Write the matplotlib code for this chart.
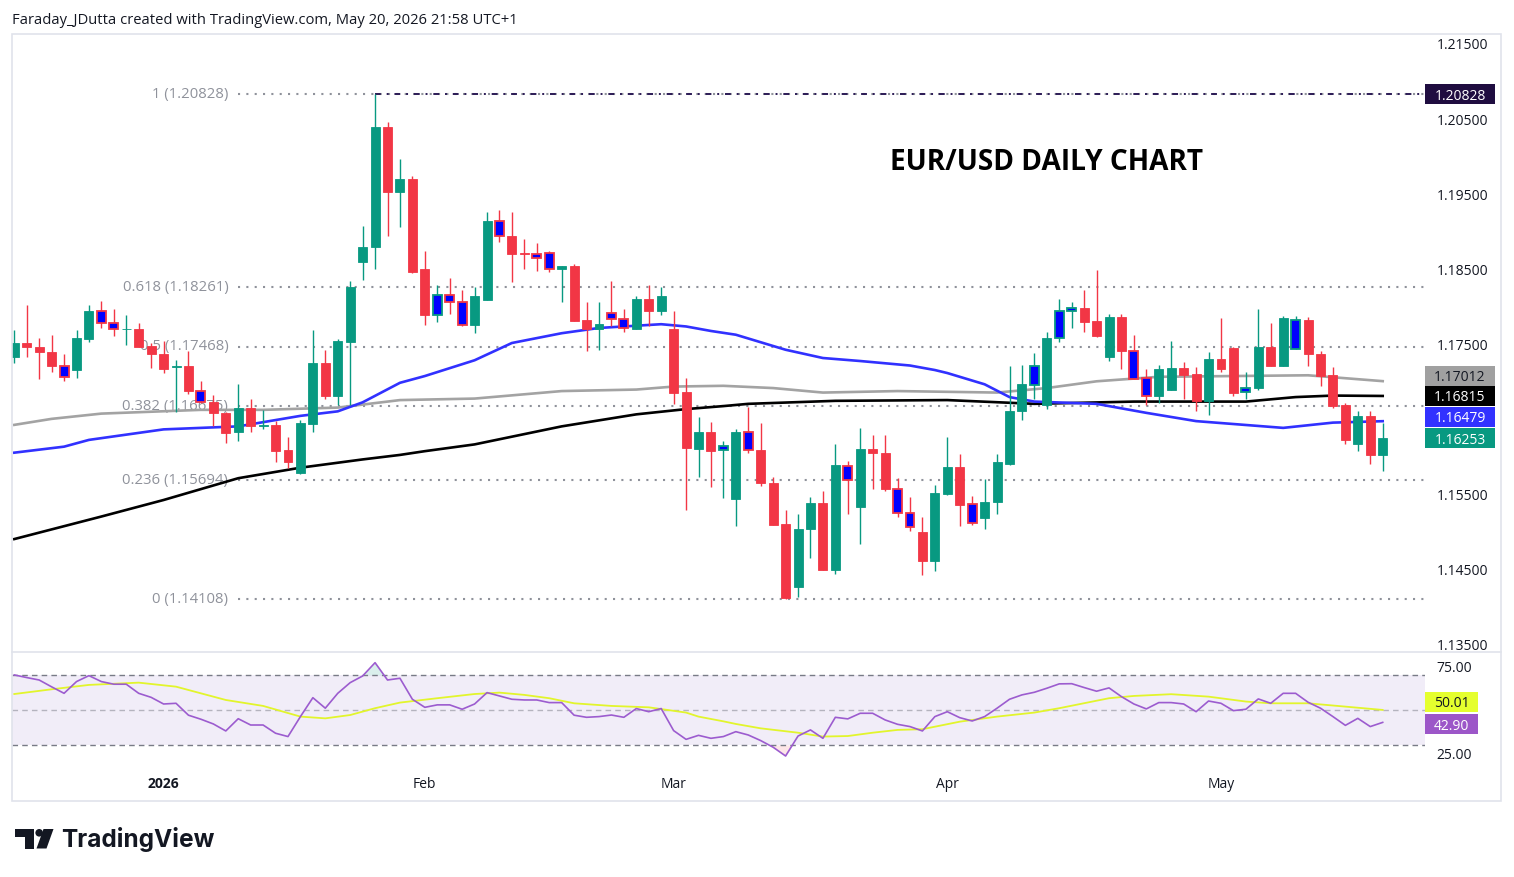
import numpy as np
import matplotlib
matplotlib.use("Agg")
import matplotlib.pyplot as plt
from matplotlib.patches import Rectangle, Circle, Polygon

W, H = 1514, 877
plt.rcParams["font.family"] = ["Open Sans", "DejaVu Sans"]

# --- Data (EUR/USD daily, bar index 0 = mid Dec 2025, 110 = May 20 2026) ---
opens = [1.1733, 1.1752, 1.1746, 1.1740, 1.1722, 1.1716, 1.1757, 1.1794, 1.1778, 1.1770,
         1.1771, 1.1748, 1.1738, 1.1720, 1.1722, 1.1688, 1.1674, 1.1659, 1.1634, 1.1666,
         1.1641, 1.1643, 1.1609, 1.1579, 1.1644, 1.1725, 1.1681, 1.1753, 1.1860, 1.1880,
         1.2039, 1.1953, 1.1970, 1.1851, 1.1789, 1.1816, 1.1807, 1.1776, 1.1809, 1.1914,
         1.1894, 1.1871, 1.1870, 1.1872, 1.1851, 1.1855, 1.1782, 1.1771, 1.1792, 1.1784,
         1.1771, 1.1810, 1.1795, 1.1770, 1.1687, 1.1611, 1.1633, 1.1609, 1.1544, 1.1634,
         1.1610, 1.1566, 1.1511, 1.1427, 1.1504, 1.1539, 1.1450, 1.1588, 1.1534, 1.1611,
         1.1606, 1.1558, 1.1526, 1.1500, 1.1462, 1.1551, 1.1587, 1.1538, 1.1519, 1.1540,
         1.1591, 1.1661, 1.1696, 1.1669, 1.1758, 1.1795, 1.1798, 1.1781, 1.1734, 1.1787,
         1.1742, 1.1705, 1.1682, 1.1689, 1.1719, 1.1711, 1.1675, 1.1731, 1.1745, 1.1687,
         1.1692, 1.1747, 1.1722, 1.1744, 1.1783, 1.1738, 1.1709, 1.1669, 1.1617, 1.1655,
         1.1603]
highs = [1.1769, 1.1803, 1.1758, 1.1763, 1.1738, 1.1769, 1.1802, 1.1808, 1.1797, 1.1789,
         1.1779, 1.1752, 1.1754, 1.1729, 1.1741, 1.1702, 1.1683, 1.1660, 1.1698, 1.1678,
         1.1663, 1.1648, 1.1627, 1.1649, 1.1769, 1.1743, 1.1757, 1.1834, 1.1908, 1.20828,
         1.2046, 1.1997, 1.1974, 1.1874, 1.1829, 1.1838, 1.1822, 1.1826, 1.1926, 1.1929,
         1.1927, 1.1890, 1.1885, 1.1875, 1.1855, 1.1857, 1.1807, 1.1807, 1.1834, 1.1797,
         1.1814, 1.1829, 1.1826, 1.1795, 1.1706, 1.1654, 1.1647, 1.1621, 1.1637, 1.1667,
         1.1645, 1.1574, 1.1530, 1.1524, 1.1547, 1.1555, 1.1617, 1.1595, 1.1639, 1.1629,
         1.1630, 1.1572, 1.1547, 1.1521, 1.1563, 1.1627, 1.1604, 1.1548, 1.1571, 1.1604,
         1.1722, 1.1723, 1.1739, 1.1766, 1.1811, 1.1807, 1.1823, 1.1849, 1.1790, 1.1791,
         1.1762, 1.1717, 1.1723, 1.1755, 1.1727, 1.1720, 1.1740, 1.1785, 1.1747, 1.1714,
         1.1797, 1.1778, 1.1788, 1.1788, 1.1787, 1.1742, 1.1720, 1.1672, 1.1661, 1.1662,
         1.1645]
lows = [1.1726, 1.1734, 1.1704, 1.1713, 1.1702, 1.1706, 1.1753, 1.1772, 1.1761, 1.1749,
        1.1746, 1.1719, 1.1712, 1.1660, 1.1684, 1.1672, 1.1642, 1.1619, 1.1622, 1.1634,
        1.1637, 1.1593, 1.1586, 1.1578, 1.1633, 1.1678, 1.1669, 1.1669, 1.1836, 1.1850,
        1.1895, 1.1906, 1.1845, 1.1776, 1.1780, 1.1790, 1.1774, 1.1765, 1.1809, 1.1886,
        1.1833, 1.1851, 1.1848, 1.1846, 1.1806, 1.1781, 1.1742, 1.1743, 1.1774, 1.1766,
        1.1771, 1.1774, 1.1789, 1.1671, 1.1530, 1.1574, 1.1560, 1.1546, 1.1508, 1.1606,
        1.1561, 1.1510, 1.14108, 1.1414, 1.1466, 1.1450, 1.1444, 1.1525, 1.1485, 1.1557,
        1.1555, 1.1520, 1.1502, 1.1443, 1.1448, 1.1550, 1.1509, 1.1510, 1.1505, 1.1524,
        1.1589, 1.1650, 1.1677, 1.1664, 1.1753, 1.1772, 1.1766, 1.1760, 1.1728, 1.1718,
        1.1704, 1.1669, 1.1672, 1.1689, 1.1677, 1.1661, 1.1656, 1.1714, 1.1681, 1.1677,
        1.1689, 1.1722, 1.1721, 1.1744, 1.1722, 1.1695, 1.1666, 1.1617, 1.1608, 1.1591,
        1.1582]
closes = [1.1752, 1.1746, 1.1740, 1.1721, 1.1707, 1.1758, 1.1794, 1.1778, 1.1770, 1.1771,
          1.1746, 1.1737, 1.1718, 1.1721, 1.1688, 1.1674, 1.1659, 1.1632, 1.1666, 1.1641,
          1.1642, 1.1608, 1.1594, 1.1645, 1.1725, 1.1681, 1.1754, 1.1826, 1.1880, 1.2039,
          1.1953, 1.1970, 1.1846, 1.1789, 1.1816, 1.1807, 1.1776, 1.1814, 1.1914, 1.1894,
          1.1870, 1.1870, 1.1865, 1.1851, 1.1855, 1.1781, 1.1771, 1.1777, 1.1784, 1.1772,
          1.1810, 1.1795, 1.1815, 1.1686, 1.1612, 1.1633, 1.1608, 1.1615, 1.1634, 1.1610,
          1.1565, 1.1510, 1.1413, 1.1505, 1.1539, 1.1450, 1.1589, 1.1570, 1.1611, 1.1605,
          1.1557, 1.1526, 1.1507, 1.1462, 1.1552, 1.1587, 1.1537, 1.1512, 1.1540, 1.1593,
          1.1662, 1.1697, 1.1722, 1.1758, 1.1795, 1.1798, 1.1780, 1.1761, 1.1787, 1.1741,
          1.1704, 1.1682, 1.1717, 1.1719, 1.1710, 1.1675, 1.1731, 1.1718, 1.1686, 1.1692,
          1.1747, 1.1722, 1.1785, 1.1783, 1.1737, 1.1708, 1.1668, 1.1623, 1.1655, 1.1603,
          1.16253]
# candles painted with a blue body
blue_bars = [4, 7, 8, 15, 34, 35, 36, 39, 42, 43, 48, 49, 57, 59, 67, 71, 72, 77,
             82, 84, 85, 90, 91, 99, 103]

# moving averages, read at sample bars
sma50_idx = [0, 4, 6, 12, 18, 23, 26, 28, 31, 33, 37, 40, 44, 47, 52, 54, 56, 58, 60, 62,
             65, 68, 72, 74, 75, 78, 80, 82, 87, 91, 95, 102, 106, 110]
sma50 = [1.1606, 1.1614, 1.1623, 1.1637, 1.1641, 1.1655, 1.1661, 1.1673, 1.1699, 1.1708,
         1.1729, 1.1752, 1.1765, 1.1772, 1.1777, 1.1774, 1.1768, 1.1763, 1.1753, 1.1743,
         1.1732, 1.1728, 1.1722, 1.1716, 1.1712, 1.1697, 1.1680, 1.1674, 1.1671, 1.1659,
         1.1648, 1.1639, 1.1646, 1.16479]
sma100_idx = [0, 3, 7, 15, 20, 26, 28, 31, 37, 44, 50, 53, 57, 61, 65, 71, 79, 83, 87, 92,
              98, 104, 110]
sma100 = [1.1643, 1.1651, 1.1658, 1.1663, 1.1663, 1.1666, 1.1670, 1.1676, 1.1678, 1.1688,
          1.1690, 1.1694, 1.1695, 1.1692, 1.1686, 1.1688, 1.1686, 1.1692, 1.1701, 1.1707,
          1.1708, 1.1709, 1.17012]
sma200_idx = [0, 7, 12, 18, 23, 28, 31, 33, 37, 44, 50, 54, 57, 59, 66, 75, 82, 90, 99,
              103, 106, 110]
sma200 = [1.1491, 1.1521, 1.1543, 1.1572, 1.1586, 1.1597, 1.1603, 1.1608, 1.1617, 1.1641,
          1.1657, 1.1664, 1.1668, 1.1671, 1.1675, 1.1676, 1.1671, 1.1674, 1.1674, 1.1680,
          1.1682, 1.16815]

fib_ratios = ["1", "0.618", "0.5", "0.382", "0.236", "0"]
fib_prices = [1.20828, 1.18261, 1.17468, 1.16675, 1.15694, 1.14108]
fib_start = 18

rsi = [70.0, 68.5, 67.1, 63.2, 59.5, 66.2, 69.6, 66.2, 64.7, 64.7,
       59.5, 57.2, 53.4, 53.8, 47.0, 44.7, 42.0, 38.0, 45.0, 41.4,
       41.4, 36.7, 34.8, 46.2, 57.0, 51.0, 59.5, 65.6, 69.4, 77.0,
       67.1, 68.1, 56.1, 51.5, 52.9, 52.9, 50.4, 53.4, 59.9, 58.0,
       56.1, 55.7, 55.7, 54.2, 54.2, 47.0, 45.8, 46.2, 47.1, 45.8,
       50.8, 49.0, 50.8, 38.2, 33.2, 35.5, 33.8, 34.8, 37.6, 35.7,
       32.5, 28.7, 23.7, 35.1, 38.6, 33.8, 45.8, 44.9, 48.1, 48.1,
       44.3, 41.8, 40.5, 38.0, 46.2, 49.0, 45.6, 43.7, 46.2, 51.0,
       56.1, 58.6, 60.1, 62.4, 64.9, 65.0, 62.8, 60.7, 62.6, 57.6,
       53.4, 50.6, 54.2, 54.2, 53.4, 49.0, 55.1, 53.8, 49.6, 50.4,
       56.3, 53.8, 59.5, 59.5, 54.4, 51.0, 46.2, 41.2, 45.2, 40.5,
       42.90]
rsi_ma_idx = [0, 3, 6, 10, 13, 17, 20, 23, 25, 27, 29, 31, 34, 37, 39, 41, 43, 45, 48, 51,
              54, 55, 57, 58, 60, 63, 65, 67, 69, 71, 73, 76, 79, 82, 84, 88, 90, 93, 96,
              99, 101, 104, 107, 110]
rsi_ma = [59.1, 61.8, 64.3, 65.6, 63.3, 55.7, 52.3, 46.2, 45.2, 47.1, 51.0, 54.2, 56.7,
          59.1, 59.9, 58.6, 56.7, 53.8, 52.3, 51.5, 48.5, 46.2, 43.5, 42.0, 39.5, 37.0,
          34.8, 35.1, 37.0, 38.6, 39.0, 43.3, 46.2, 48.5, 51.0, 56.7, 58.0, 59.0, 57.6,
          54.8, 53.8, 53.8, 51.9, 50.01]

month_idx = [12, 33, 53, 75, 97]
month_labels = ["2026", "Feb", "Mar", "Apr", "May"]

# --- Style ---
GREEN = "#089981"
RED = "#f23645"
BLUE_BODY = "#0000ff"
FIB = "#8f929b"
TXT = "#131722"
FRAME = "#e0e3eb"


def frac(x0, y0, x1, y1):
    # pixel box (origin top-left) -> figure fraction
    return [x0 / W, 1 - y1 / H, (x1 - x0) / W, (y1 - y0) / H]


fig = plt.figure(figsize=(W / 100, H / 100), dpi=100)
fig.patch.set_facecolor("white")

ax = fig.add_axes(frac(12, 34, 1425, 651))
rx = fig.add_axes(frac(12, 652, 1425, 770), sharex=ax)
XLIM = (-0.185, 113.4)

# --- Price panel ---
x = np.arange(len(opens))
o, hi, lo, c = (np.array(v) for v in (opens, highs, lows, closes))
up = c >= o
edge = np.where(up, GREEN, RED)
face = edge.copy()
face[blue_bars] = BLUE_BODY
lw = np.full(len(x), 0.6)
lw[blue_bars] = 1.3

ax.vlines(x, lo, hi, colors=edge, lw=1.0, zorder=3)
ax.bar(x, np.maximum(np.abs(c - o), 0.00012), bottom=np.minimum(o, c), width=0.72,
       color=face, edgecolor=edge, linewidth=lw, zorder=4)

ax.plot(sma100_idx, sma100, color="#a3a3a3", lw=1.9, zorder=2)
ax.plot(sma200_idx, sma200, color="black", lw=1.9, zorder=2)
ax.plot(sma50_idx, sma50, color="#3131ff", lw=1.9, zorder=2)

ax.hlines(fib_prices, fib_start, XLIM[1], colors=FIB, linestyles=(0, (1, 3)), lw=1.5, zorder=1)
ax.hlines(fib_prices[0], 29, XLIM[1], colors="#2b1a55", linestyles=(0, (3, 3, 1, 3)),
          lw=1.4, zorder=1)
for r, p in zip(fib_ratios, fib_prices):
    ax.text(fib_start - 0.8, p, f"{r} ({p:.5f})", ha="right", va="center",
            color=FIB, fontsize=10.7, zorder=1)

ax.set_xlim(*XLIM)
ax.set_ylim(1.1342, 1.21633)
ax.yaxis.tick_right()
ax.set_yticks(np.arange(1.135, 1.2151, 0.01))
ax.yaxis.set_major_formatter(plt.FormatStrFormatter("%.5f"))
ax.tick_params(axis="y", length=0, pad=8.5, labelsize=10, labelcolor=TXT)
ax.tick_params(axis="x", length=0, labelbottom=False)
for s in ax.spines.values():
    s.set_visible(False)

# --- RSI panel ---
rsi_arr = np.array(rsi)
rx.axhspan(30, 70, color="#7e57c2", alpha=0.1, lw=0)
rx.axhline(70, color="#787b86", ls=(0, (4, 3)), lw=1)
rx.axhline(30, color="#787b86", ls=(0, (4, 3)), lw=1)
rx.axhline(50, color="#787b86", alpha=0.5, ls=(0, (4, 3)), lw=1)
rx.fill_between(x, rsi_arr, 70, where=rsi_arr > 70, interpolate=True, color=GREEN, alpha=0.15, lw=0)
rx.fill_between(x, rsi_arr, 30, where=rsi_arr < 30, interpolate=True, color=RED, alpha=0.12, lw=0)
rx.plot(rsi_ma_idx, rsi_ma, color="#e2f52c", lw=1.3)
rx.plot(x, rsi_arr, color="#9c5ccf", lw=1.2)
rx.set_ylim(15.7, 83.1)
rx.yaxis.tick_right()
rx.set_yticks([25, 75])
rx.yaxis.set_major_formatter(plt.FormatStrFormatter("%.2f"))
rx.tick_params(axis="y", length=0, pad=8.5, labelsize=10, labelcolor=TXT)
rx.set_xticks(month_idx)
rx.set_xticklabels(month_labels)
rx.tick_params(axis="x", length=0, pad=5, labelsize=10, labelcolor=TXT)
rx.get_xticklabels()[0].set_fontweight("bold")
for s in rx.spines.values():
    s.set_visible(False)

# --- Overlay in pixel coordinates ---
ov = fig.add_axes([0, 0, 1, 1], zorder=10)
ov.set_xlim(0, W)
ov.set_ylim(H, 0)
ov.axis("off")
ov.patch.set_alpha(0)

ov.add_patch(Rectangle((12, 34), 1489, 767, fill=False, ec=FRAME, lw=1.2))
ov.plot([12, 1501], [651.5, 651.5], color=FRAME, lw=1.2)

ov.text(12, 19, "Faraday_JDutta created with TradingView.com, May 20, 2026 21:58 UTC+1",
        ha="left", va="center_baseline", fontsize=10.6, color=TXT)
ov.text(1046, 159, "EUR/USD DAILY CHART", ha="center", va="center_baseline",
        fontsize=20.2, fontweight="bold", color="black")


def tag(axis, value, text, fc, tc, dy=0, w=70):
    yd = axis.transData.transform((0, value))[1]
    yy = H - yd + dy
    ov.add_patch(Rectangle((1425, yy - 10), w, 20, fc=fc, ec="none"))
    ov.text(1425 + w / 2, yy, text, ha="center", va="center_baseline", fontsize=10, color=tc)


tag(ax, 1.20828, "1.20828", "#1f0d40", "white")
tag(ax, 1.17012, "1.17012", "#a0a0a0", TXT, dy=-5.5)
tag(ax, 1.16815, "1.16815", "black", "white")
tag(ax, 1.16479, "1.16479", "#3232ff", "white", dy=-4.5)
tag(ax, 1.16253, "1.16253", GREEN, "white")
tag(rx, 50.01, "50.01", "#e5ff2e", TXT, dy=-8, w=53)
tag(rx, 42.90, "42.90", "#9c56c8", "white", dy=2, w=53)

# TradingView logo
ov.add_patch(Rectangle((15, 829), 18.5, 7.5, fc=TXT, ec="none"))
ov.add_patch(Rectangle((25, 829), 8.5, 19.5, fc=TXT, ec="none"))
ov.add_patch(Circle((39.2, 832.8), 3.8, fc=TXT, ec="none"))
ov.add_patch(Polygon([(43.5, 829), (53.5, 829), (46.5, 848.5), (36.5, 848.5)], fc=TXT, ec="none"))
ov.text(61, 839, "TradingView", ha="left", va="center", fontsize=17.6,
        fontweight="bold", family=["Inter", "DejaVu Sans"], color=TXT)

fig.savefig("out.png", dpi=100)
